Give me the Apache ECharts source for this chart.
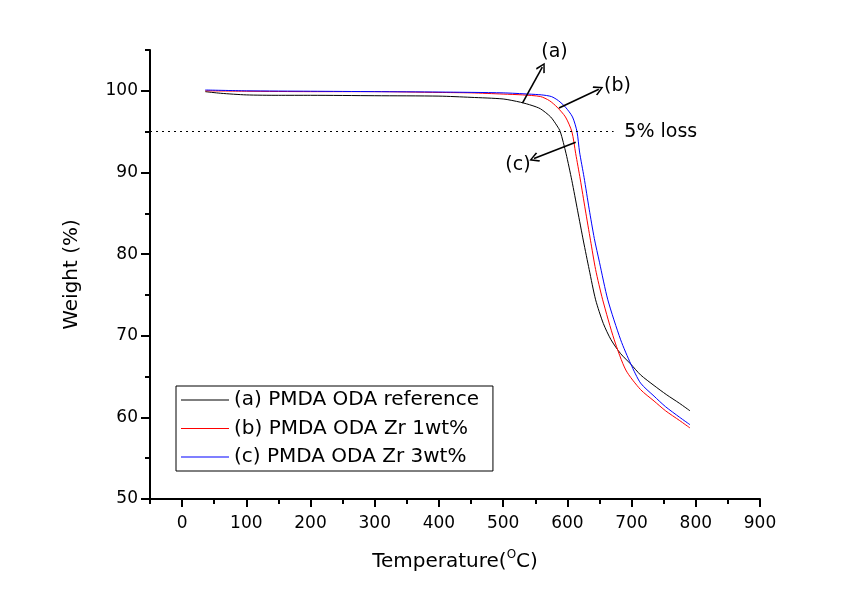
<!DOCTYPE html>
<html>
<head>
<meta charset="utf-8">
<script src="https://cdn.jsdelivr.net/npm/echarts@6/dist/echarts.min.js"></script>
<style>html,body{margin:0;padding:0;background:#fff;}#c{width:859px;height:604px;}</style>
</head>
<body>
<div id="c"></div>
<script>
// ---- data ----
const seriesNames = ['(a) PMDA ODA reference', '(b) PMDA ODA Zr 1wt%', '(c) PMDA ODA Zr 3wt%'];

const tempA = [36, 60, 100, 150, 200, 300, 400, 450, 500, 527, 545, 558, 574, 584, 589, 598, 607, 616, 625, 634, 644, 656, 668, 683, 699, 714, 735, 754, 775, 791];
const weightA = [99.9, 99.7, 99.5, 99.45, 99.45, 99.4, 99.35, 99.2, 99.0, 98.6, 98.2, 97.8, 96.8, 95.7, 95.0, 92.3, 89.0, 85.3, 81.6, 78.1, 74.4, 71.5, 69.5, 67.8, 66.5, 65.2, 63.9, 62.8, 61.7, 60.8];

const tempB = [36, 100, 200, 300, 400, 450, 500, 530, 558, 572, 584, 597, 607, 613, 620, 628, 636, 644, 655, 673, 691, 714, 735, 753, 775, 791];
const weightB = [100.0, 99.95, 99.9, 99.9, 99.8, 99.75, 99.6, 99.5, 99.3, 98.8, 98.0, 96.8, 95.0, 92.3, 89.2, 85.4, 81.7, 78.1, 74.4, 69.5, 65.8, 63.4, 62.0, 60.8, 59.6, 58.7];

const tempC = [36, 100, 200, 300, 400, 500, 540, 560, 575, 586, 597, 608, 615, 619, 626, 634, 642, 650, 663, 683, 699, 714, 735, 753, 775, 791];
const weightC = [100.1, 100.0, 99.95, 99.9, 99.85, 99.75, 99.6, 99.5, 99.3, 98.8, 98.0, 96.8, 95.0, 92.5, 89.4, 85.5, 81.9, 79.0, 74.4, 69.5, 66.5, 64.2, 62.6, 61.3, 60.0, 59.1];

const xTickLabels = [0, 100, 200, 300, 400, 500, 600, 700, 800, 900];
const yTickLabels = [50, 60, 70, 80, 90, 100];

const lossLevel = 95;
const lossLineEnd = 672;
// annotation arrows: [start, tip] in data coords, and label positions
const arrowA = [[530, 98.5], [561, 102.9]];
const arrowB = [[587, 97.9], [649, 100.2]];
const arrowC = [[613, 93.7], [548, 91.7]];
const labelA = [580, 104.8];
const labelB = [678, 100.6];
const labelC = [523, 90.9];
const lossLabel = [688, 95];

// ---- chart ----
const FONT = 'DejaVu Sans';
const pairs = (t, w) => t.map((v, i) => [v, w[i]]);
const chevron = 'path://M5,0 L10,8 L8.8,9 L5,2.6 L1.2,9 L0,8 Z';

const chart = echarts.init(document.getElementById('c'), null, {renderer: 'canvas'});

const axisLineStyle = {color: '#000', width: 2};

const option = {
  backgroundColor: '#fff',
  animation: false,
  textStyle: {fontFamily: FONT, color: '#000'},
  grid: {left: 150, right: 99, top: 50, bottom: 105, containLabel: false},
  legend: {
    data: seriesNames.map(n => ({name: n, icon: 'rect'})),
    orient: 'vertical',
    left: 176,
    top: 386,
    itemWidth: 48,
    itemHeight: 1,
    itemGap: 8.5,
    padding: [4, 14, 4, 5],
    borderColor: '#000',
    borderWidth: 1,
    borderRadius: 0,
    backgroundColor: '#fff',
    textStyle: {fontFamily: FONT, fontSize: 20, color: '#000', lineHeight: 20}
  },
  xAxis: [
    {
      type: 'value', min: -50, max: 900, interval: 50,
      axisLine: {show: true, onZero: false, lineStyle: axisLineStyle},
      axisTick: {show: true, length: 5, lineStyle: {color: '#000', width: 2}},
      axisLabel: {show: false},
      splitLine: {show: false}
    },
    {
      type: 'value', min: -50, max: 900, position: 'bottom',
      axisLine: {show: false, onZero: false},
      axisTick: {show: true, length: 8, customValues: xTickLabels, lineStyle: {color: '#000', width: 2}},
      axisLabel: {show: true, customValues: xTickLabels, fontSize: 17, color: '#000', margin: 16, fontFamily: FONT},
      splitLine: {show: false},
      name: 'Temperature({sup|O}C)',
      nameLocation: 'middle',
      nameGap: 50,
      nameTextStyle: {
        fontSize: 20, color: '#000', fontFamily: FONT, lineHeight: 26,
        rich: {sup: {fontSize: 12, fontFamily: FONT, color: '#000', verticalAlign: 'top', lineHeight: 14, padding: [0, 0, 10, 0]}}
      }
    }
  ],
  yAxis: [
    {
      type: 'value', min: 50, max: 105, interval: 5,
      axisLine: {show: true, onZero: false, lineStyle: axisLineStyle},
      axisTick: {show: true, length: 5, lineStyle: {color: '#000', width: 2}},
      axisLabel: {show: false},
      splitLine: {show: false}
    },
    {
      type: 'value', min: 50, max: 105, position: 'left',
      axisLine: {show: false, onZero: false},
      axisTick: {show: true, length: 9, customValues: yTickLabels, lineStyle: {color: '#000', width: 2}},
      axisLabel: {show: true, customValues: yTickLabels, fontSize: 17, color: '#000', margin: 12, fontFamily: FONT},
      splitLine: {show: false},
      name: 'Weight (%)',
      nameLocation: 'middle',
      nameGap: 68,
      nameTextStyle: {fontSize: 20, color: '#000', fontFamily: FONT}
    }
  ],
  series: [
    {
      name: seriesNames[0], type: 'line', data: pairs(tempA, weightA),
      xAxisIndex: 0, yAxisIndex: 0,
      symbol: 'none', smooth: 0.25,
      lineStyle: {color: '#000000', width: 1}, itemStyle: {color: '#000000'}, z: 3
    },
    {
      name: seriesNames[1], type: 'line', data: pairs(tempB, weightB),
      xAxisIndex: 0, yAxisIndex: 0,
      symbol: 'none', smooth: 0.25,
      lineStyle: {color: '#ff0000', width: 1}, itemStyle: {color: '#ff0000'}, z: 3
    },
    {
      name: seriesNames[2], type: 'line', data: pairs(tempC, weightC),
      xAxisIndex: 0, yAxisIndex: 0,
      symbol: 'none', smooth: 0.25,
      lineStyle: {color: '#0000ff', width: 1}, itemStyle: {color: '#0000ff'}, z: 3
    },
    {
      name: 'lossLine', type: 'line', data: [], xAxisIndex: 0, yAxisIndex: 0,
      markLine: {
        silent: true, symbol: ['none', 'none'], animation: false,
        lineStyle: {color: '#000', width: 1, type: [2, 4]},
        label: {show: false},
        data: [[{coord: [-50, lossLevel]}, {coord: [lossLineEnd, lossLevel]}]]
      }
    },
    {
      name: 'annotations', type: 'line', data: [], xAxisIndex: 0, yAxisIndex: 0,
      markLine: {
        silent: true, symbol: ['none', chevron], symbolSize: [10, 10], animation: false,
        lineStyle: {color: '#000', width: 1.6, type: 'solid'},
        label: {show: false},
        data: [
          [{coord: arrowA[0]}, {coord: arrowA[1]}],
          [{coord: arrowB[0]}, {coord: arrowB[1]}],
          [{coord: arrowC[0]}, {coord: arrowC[1]}]
        ]
      },
      markPoint: {
        silent: true, symbol: 'circle', symbolSize: 1, animation: false,
        itemStyle: {color: 'rgba(0,0,0,0)'},
        label: {show: true, position: 'inside', color: '#000', fontSize: 19, fontFamily: FONT, formatter: p => p.name},
        data: [
          {name: '(a)', coord: labelA},
          {name: '(b)', coord: labelB},
          {name: '(c)', coord: labelC},
          {name: '5% loss', coord: lossLabel, label: {position: 'right', distance: 0, align: 'left'}}
        ]
      }
    }
  ]
};
chart.setOption(option);
</script>
</body>
</html>
